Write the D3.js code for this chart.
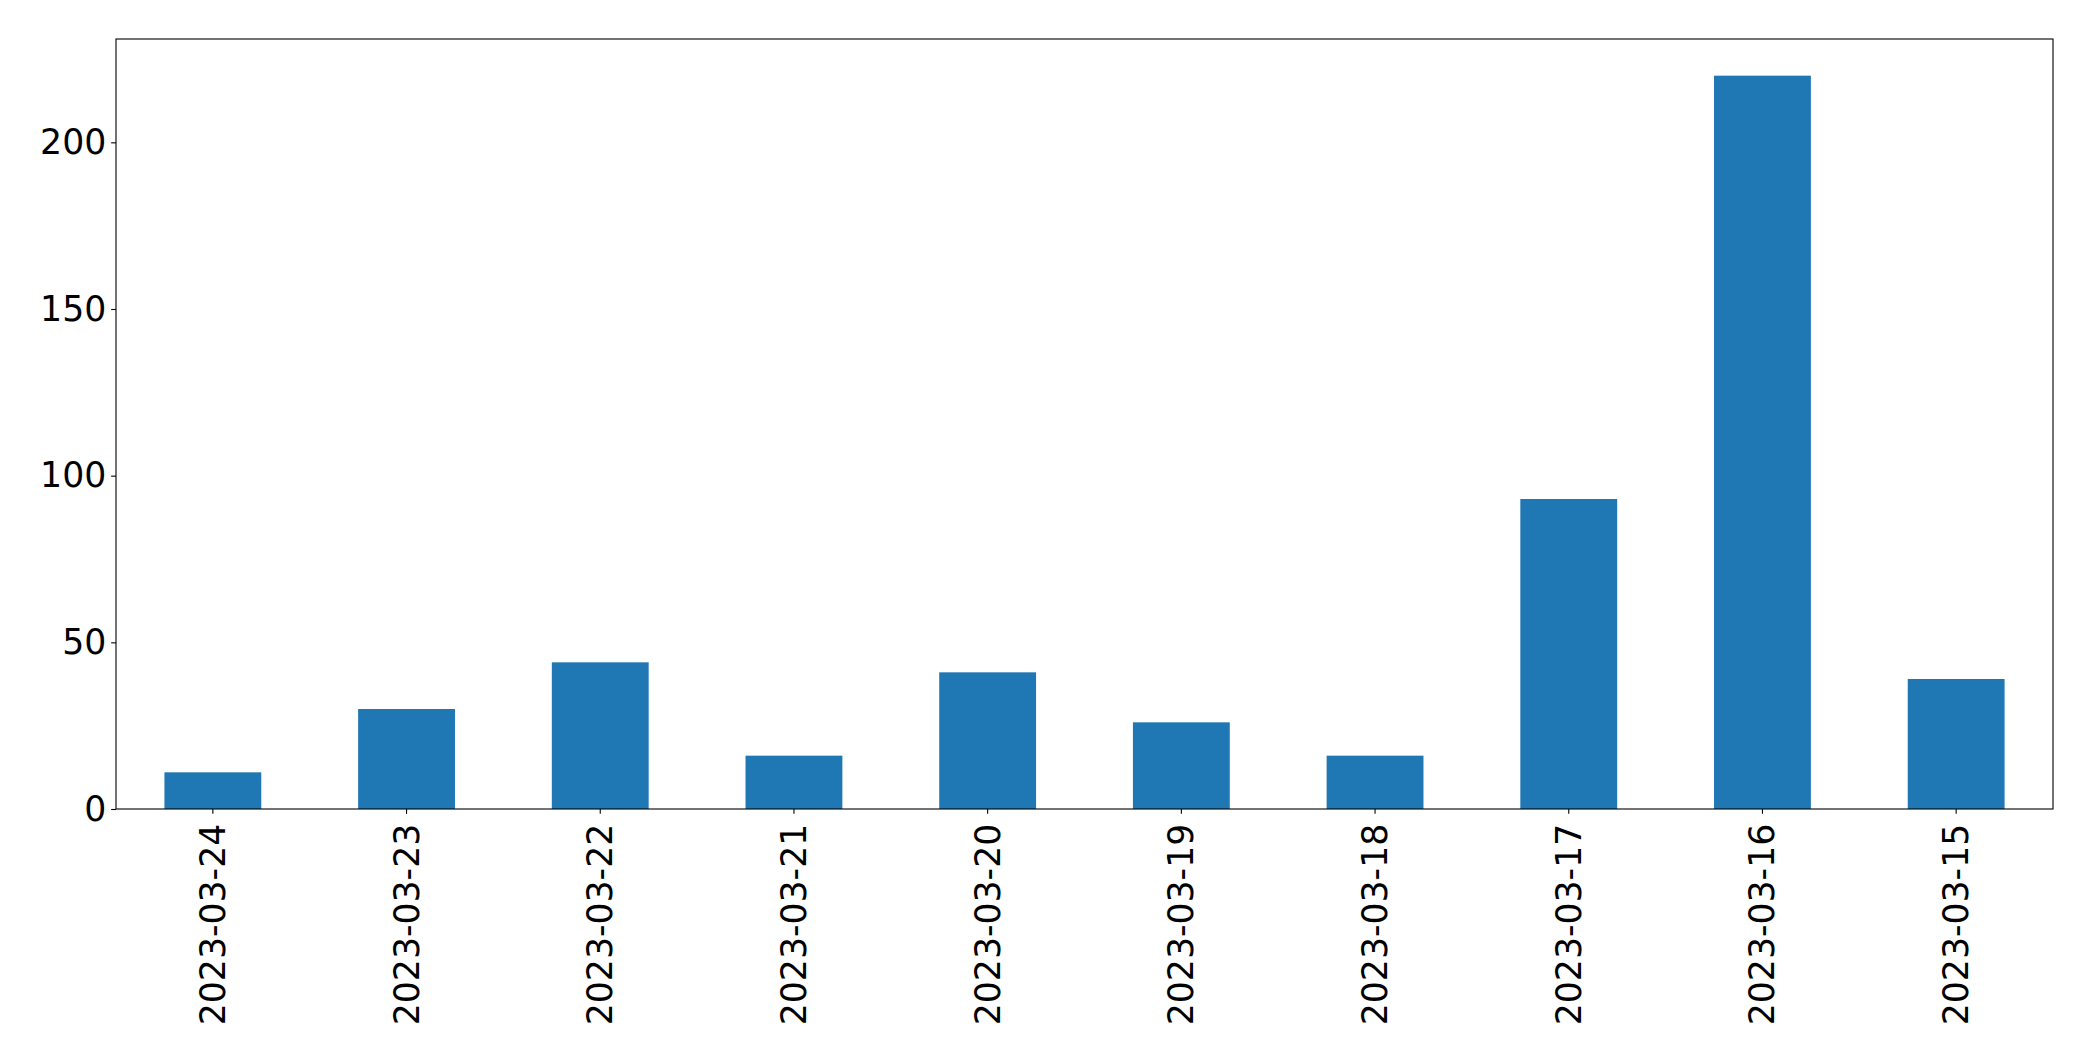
<!DOCTYPE html>
<html>
<head>
<meta charset="utf-8">
<script src="https://cdn.jsdelivr.net/npm/d3@7"></script>
<style>
  html, body { margin: 0; padding: 0; background: #fff; }
  svg { display: block; }
  text { font-family: "DejaVu Sans", sans-serif; fill: #000; }
</style>
</head>
<body>
<svg id="chart" width="2093" height="1061"></svg>
<script>
const categories = ["2023-03-24", "2023-03-23", "2023-03-22", "2023-03-21", "2023-03-20",
                    "2023-03-19", "2023-03-18", "2023-03-17", "2023-03-16", "2023-03-15"];
const values = [11, 30, 44, 16, 41, 26, 16, 93, 220, 39];
const yTicks = [0, 50, 100, 150, 200];

const svg = d3.select("#chart");
const margin = { left: 116, right: 40, top: 39, bottom: 252 };
const W = 2093, H = 1061;
const x0 = margin.left, x1 = W - margin.right;
const y0 = H - margin.bottom, y1 = margin.top;

const x = d3.scaleBand().domain(categories).range([x0, x1]).paddingInner(0.5).paddingOuter(0.25);
const y = d3.scaleLinear().domain([0, d3.max(values) * 1.05]).range([y0, y1]);

const fontSize = 34.7;
const tickLen = 4.86;

svg.append("g").selectAll("rect").data(categories).join("rect")
  .attr("x", d => x(d))
  .attr("width", x.bandwidth())
  .attr("y", (d, i) => y(values[i]))
  .attr("height", (d, i) => y(0) - y(values[i]))
  .attr("fill", "#1f77b4");

const yAxis = svg.append("g").attr("transform", `translate(${x0},0)`)
  .call(d3.axisLeft(y).tickValues(yTicks).tickSize(tickLen).tickPadding(4.86).tickFormat(d3.format("d")));
yAxis.select(".domain").remove();
yAxis.selectAll("line").attr("stroke", "#000").attr("stroke-width", 1.1);
yAxis.selectAll("text").attr("font-size", fontSize).attr("font-family", "DejaVu Sans").attr("fill", "#000");

const xAxis = svg.append("g").attr("transform", `translate(0,${y0})`)
  .call(d3.axisBottom(x).tickSize(tickLen).tickPadding(0));
xAxis.select(".domain").remove();
xAxis.selectAll("line").attr("stroke", "#000").attr("stroke-width", 1.1);
xAxis.selectAll("text")
  .attr("font-size", fontSize).attr("font-family", "DejaVu Sans").attr("fill", "#000")
  .attr("dy", null).attr("y", 0)
  .attr("text-anchor", "end").attr("dominant-baseline", "central")
  .attr("transform", `translate(0,${tickLen + 4.86 + 5}) rotate(-90)`);

svg.append("rect")
  .attr("x", x0).attr("y", y1).attr("width", x1 - x0).attr("height", y0 - y1)
  .attr("fill", "none").attr("stroke", "#000").attr("stroke-width", 1.1);
</script>
</body>
</html>
